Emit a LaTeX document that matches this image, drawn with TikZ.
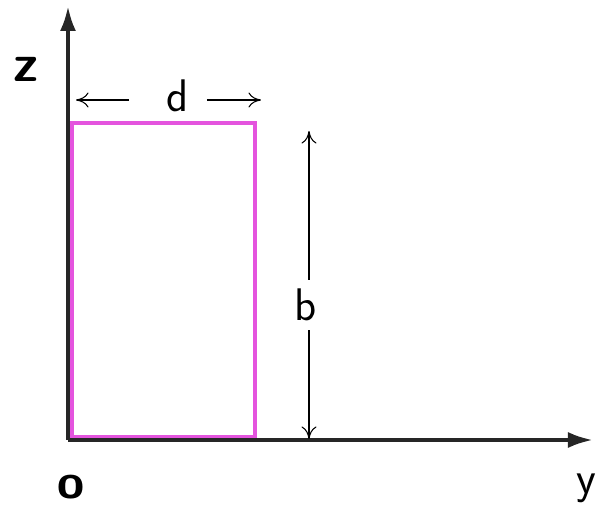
\documentclass[tikz,border=0pt]{standalone}
\usepackage{xcolor}
\usetikzlibrary{arrows.meta}
\definecolor{penpink}{RGB}{228,84,222}

\begin{document}
\begin{tikzpicture}[
    axis/.style={draw, line width=2.2pt, color=black!85, -{Latex[length=5mm,width=3.2mm]}},
    dim/.style={draw, semithick, -{To[length=2.5mm,width=3mm]}},
    lbl/.style={font=\sffamily\fontsize{26}{30}\selectfont, inner sep=2pt},
    wall/.style={draw=penpink, line width=2.2pt}]

    \useasboundingbox (0,0) rectangle (12.08,10.18);

    \coordinate (O) at (1.36,1.38);
    \coordinate (zend) at (1.36,10.06);
    \coordinate (yend) at (11.86,1.38);

    \draw [wall] (1.44,1.44) rectangle (5.10,7.72);

    \path [axis] (O) -- (zend);
    \path [axis] (O) -- (yend);

    \node [lbl, font=\sffamily\bfseries\fontsize{30}{34}\selectfont] (zlab) at (0.52,8.80) {z};
    \node [lbl, font=\sffamily\bfseries\fontsize{28}{32}\selectfont] (olab) at (1.42,0.44) {o};
    \node [lbl] (ylab) at (11.72,0.42) {y};

    \node [lbl, inner xsep=0.35cm] (d) at (3.56,8.26) {d};
    \coordinate (dL) at (1.52,8.18);
    \coordinate (dR) at (5.22,8.18);
    \path [dim, shorten <=0.4cm] (d.west |- dL) -- (dL);
    \path [dim] (d.east |- dR) -- (dR);

    \node [lbl, inner ysep=0.18cm] (b) at (6.12,4.08) {b};
    \coordinate (bT) at (6.18,7.56);
    \coordinate (bB) at (6.18,1.40);
    \path [dim] (b.north -| bT) -- (bT);
    \path [dim] (b.south -| bB) -- (bB);
\end{tikzpicture}
\end{document}
